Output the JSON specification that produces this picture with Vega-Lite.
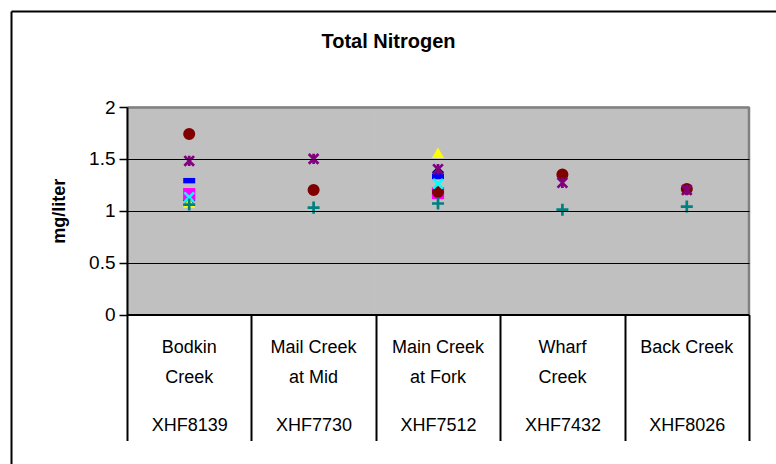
{
  "$schema": "https://vega.github.io/schema/vega-lite/v6.json",
  "width": 765,
  "height": 453,
  "autosize": "none",
  "padding": {"left": 11, "top": 11, "right": 0, "bottom": 0},
  "background": "white",
  "config": {
    "view": {"stroke": null},
    "font": "Liberation Sans",
    "axis": {"labelFont": "Liberation Sans", "titleFont": "Liberation Sans", "labelColor": "black", "titleColor": "black"}
  },
  "title": {"text": "Total Nitrogen", "fontSize": 20, "fontWeight": "bold", "font": "Liberation Sans", "color": "black", "anchor": "middle", "frame": "group", "offset": -51, "baseline": "middle", "dx": -5},
  "datasets": {
    "sites": [
      {"site": "Bodkin|Creek|XHF8139"},
      {"site": "Mail Creek|at Mid|XHF7730"},
      {"site": "Main Creek|at Fork|XHF7512"},
      {"site": "Wharf|Creek|XHF7432"},
      {"site": "Back Creek||XHF8026"}
    ],
    "tn": [
      {"site": "Bodkin|Creek|XHF8139", "series": "Sample 1", "value": 1.10},
      {"site": "Bodkin|Creek|XHF8139", "series": "Sample 2", "value": 1.16},
      {"site": "Bodkin|Creek|XHF8139", "series": "Sample 3", "value": 1.08},
      {"site": "Bodkin|Creek|XHF8139", "series": "Sample 4", "value": 1.13},
      {"site": "Bodkin|Creek|XHF8139", "series": "Sample 5", "value": 1.48},
      {"site": "Bodkin|Creek|XHF8139", "series": "Sample 6", "value": 1.74},
      {"site": "Bodkin|Creek|XHF8139", "series": "Sample 7", "value": 1.06},
      {"site": "Bodkin|Creek|XHF8139", "series": "Sample 8", "value": 1.29},
      {"site": "Mail Creek|at Mid|XHF7730", "series": "Sample 5", "value": 1.50},
      {"site": "Mail Creek|at Mid|XHF7730", "series": "Sample 6", "value": 1.20},
      {"site": "Mail Creek|at Mid|XHF7730", "series": "Sample 7", "value": 1.03},
      {"site": "Main Creek|at Fork|XHF7512", "series": "Sample 1", "value": 1.37},
      {"site": "Main Creek|at Fork|XHF7512", "series": "Sample 2", "value": 1.17},
      {"site": "Main Creek|at Fork|XHF7512", "series": "Sample 3", "value": 1.56},
      {"site": "Main Creek|at Fork|XHF7512", "series": "Sample 4", "value": 1.26},
      {"site": "Main Creek|at Fork|XHF7512", "series": "Sample 5", "value": 1.40},
      {"site": "Main Creek|at Fork|XHF7512", "series": "Sample 6", "value": 1.18},
      {"site": "Main Creek|at Fork|XHF7512", "series": "Sample 7", "value": 1.07},
      {"site": "Main Creek|at Fork|XHF7512", "series": "Sample 8", "value": 1.33},
      {"site": "Wharf|Creek|XHF7432", "series": "Sample 5", "value": 1.27},
      {"site": "Wharf|Creek|XHF7432", "series": "Sample 6", "value": 1.35},
      {"site": "Wharf|Creek|XHF7432", "series": "Sample 7", "value": 1.01},
      {"site": "Back Creek||XHF8026", "series": "Sample 5", "value": 1.20},
      {"site": "Back Creek||XHF8026", "series": "Sample 6", "value": 1.21},
      {"site": "Back Creek||XHF8026", "series": "Sample 7", "value": 1.04}
    ]
  },
  "resolve": {"scale": {"x": "independent", "y": "independent"}, "axis": {"x": "independent", "y": "independent"}},
  "layer": [
    {
      "data": {"name": "sites"},
      "mark": {"type": "point", "opacity": 0},
      "encoding": {
        "x": {
          "field": "site", "type": "nominal",
          "scale": {"type": "band", "paddingInner": 0, "paddingOuter": 0},
          "axis": {"orient": "top", "offset": 0, "title": null, "zindex": 1, "domain": true, "domainColor": "black", "domainWidth": 2, "ticks": false, "labels": false, "grid": false}
        },
        "y": {
          "datum": 0, "type": "quantitative",
          "scale": {"domain": [0, 1], "nice": false},
          "axis": {"orient": "left", "offset": 0, "title": null, "zindex": 1, "domain": true, "domainColor": "black", "domainWidth": 2, "ticks": false, "labels": false, "grid": false}
        }
      }
    },
    {
      "data": {"name": "sites"},
      "mark": {"type": "rect", "fill": "#C0C0C0", "stroke": "#C0C0C0", "strokeWidth": 1, "zindex": 0},
      "encoding": {
        "x": {
          "field": "site", "type": "nominal",
          "scale": {"type": "band", "domain": ["Bodkin|Creek|XHF8139", "Mail Creek|at Mid|XHF7730", "Main Creek|at Fork|XHF7512", "Wharf|Creek|XHF7432", "Back Creek||XHF8026"], "range": [116, 738], "paddingInner": 0, "paddingOuter": 0},
          "axis": {
            "orient": "bottom", "offset": -149.5, "title": null, "zindex": 1,
            "domain": true, "domainColor": "black", "domainWidth": 2,
            "ticks": false, "grid": false,
            "labelExpr": "[split(datum.label, '|')[0], split(datum.label, '|')[1]]",
            "labelFontSize": 18, "labelLineHeight": 30, "labelBaseline": "top", "labelPadding": 24, "labelAngle": 0
          }
        },
        "y": {
          "datum": 0, "type": "quantitative",
          "scale": {"domain": [0, 2], "range": [303.5, 96], "nice": false, "zero": false},
          "axis": {
            "orient": "left", "offset": -116, "title": "mg/liter", "zindex": 1,
            "values": [0, 0.5, 1, 1.5, 2], "format": "~g",
            "domain": true, "domainColor": "black", "domainWidth": 2,
            "ticks": true, "tickColor": "black", "tickSize": 8, "tickWidth": 1.5,
            "labelFontSize": 19, "labelPadding": 4, "labelFlush": false,
            "grid": true,
            "gridColor": {"condition": {"test": "datum.value === 2", "value": "#808080"}, "value": "black"},
            "gridWidth": {"condition": {"test": "datum.value === 2", "value": 2.5}, "value": 1},
            "titleFontSize": 18, "titleFontWeight": "bold", "titlePadding": 20
          }
        },
        "y2": {"datum": 2}
      }
    },
    {
      "data": {"name": "sites"},
      "transform": [{"filter": "datum.site === 'Back Creek||XHF8026'"}],
      "mark": {"type": "rule", "color": "#808080", "strokeWidth": 2.5, "zindex": 1},
      "encoding": {
        "x": {
          "field": "site", "type": "nominal", "bandPosition": 1,
          "scale": {"type": "band", "domain": ["Bodkin|Creek|XHF8139", "Mail Creek|at Mid|XHF7730", "Main Creek|at Fork|XHF7512", "Wharf|Creek|XHF7432", "Back Creek||XHF8026"], "range": [116, 738], "paddingInner": 0, "paddingOuter": 0},
          "axis": {
            "orient": "bottom", "offset": -149.5, "title": null, "zindex": 1,
            "domain": false, "grid": false,
            "ticks": true, "tickBand": "extent", "tickSize": 126, "tickWidth": 2, "tickColor": "black",
            "labelExpr": "split(datum.label, '|')[2]",
            "labelFontSize": 18, "labelBaseline": "top", "labelPadding": -24, "labelAngle": 0
          }
        },
        "y": {"datum": 0, "type": "quantitative", "scale": {"domain": [0, 2], "range": [303.5, 96], "nice": false, "zero": false}, "axis": null},
        "y2": {"datum": 2}
      }
    },
    {
      "data": {"name": "tn"},
      "transform": [{"filter": "indexof(['Sample 1','Sample 2','Sample 3','Sample 6','Sample 8'], datum.series) >= 0"}],
      "mark": {"type": "point", "filled": true, "opacity": 1, "strokeWidth": 0, "zindex": 2},
      "encoding": {
        "x": {"field": "site", "type": "nominal", "axis": null,
          "scale": {"type": "band", "domain": ["Bodkin|Creek|XHF8139", "Mail Creek|at Mid|XHF7730", "Main Creek|at Fork|XHF7512", "Wharf|Creek|XHF7432", "Back Creek||XHF8026"], "range": [116, 738], "paddingInner": 0, "paddingOuter": 0}},
        "y": {"field": "value", "type": "quantitative", "axis": null, "scale": {"domain": [0, 2], "range": [303.5, 96], "nice": false, "zero": false}},
        "order": {"field": "series"},
        "color": {"field": "series", "type": "nominal", "legend": null,
          "scale": {"domain": ["Sample 1", "Sample 2", "Sample 3", "Sample 4", "Sample 5", "Sample 6", "Sample 7", "Sample 8"], "range": ["#000080", "#FF00FF", "#FFFF00", "#00FFFF", "#800080", "#800000", "#008080", "#0000FF"]}},
        "shape": {"field": "series", "type": "nominal", "legend": null,
          "scale": {"domain": ["Sample 1", "Sample 2", "Sample 3", "Sample 4", "Sample 5", "Sample 6", "Sample 7", "Sample 8"], "range": ["diamond", "square", "triangle-up", "M-0.8,-0.8L0.8,0.8M-0.8,0.8L0.8,-0.8", "M-0.8,-0.8L0.8,0.8M-0.8,0.8L0.8,-0.8M0,-0.85V0.85", "circle", "M-1,0H1M0,-1V1", "M-1,-0.45H1V0.45H-1Z"]}},
        "size": {"field": "series", "type": "nominal", "legend": null,
          "scale": {"domain": ["Sample 1", "Sample 2", "Sample 3", "Sample 4", "Sample 5", "Sample 6", "Sample 7", "Sample 8"], "range": [150, 144, 200, 260, 340, 185, 220, 72]}}
      }
    },
    {
      "data": {"name": "tn"},
      "transform": [{"filter": "indexof(['Sample 4','Sample 5','Sample 7'], datum.series) >= 0"}],
      "mark": {"type": "point", "filled": false, "opacity": 1, "strokeWidth": 2.7, "zindex": 2},
      "encoding": {
        "x": {"field": "site", "type": "nominal", "axis": null,
          "scale": {"type": "band", "domain": ["Bodkin|Creek|XHF8139", "Mail Creek|at Mid|XHF7730", "Main Creek|at Fork|XHF7512", "Wharf|Creek|XHF7432", "Back Creek||XHF8026"], "range": [116, 738], "paddingInner": 0, "paddingOuter": 0}},
        "y": {"field": "value", "type": "quantitative", "axis": null, "scale": {"domain": [0, 2], "range": [303.5, 96], "nice": false, "zero": false}},
        "order": {"field": "series"},
        "color": {"field": "series", "type": "nominal", "legend": null},
        "shape": {"field": "series", "type": "nominal", "legend": null},
        "size": {"field": "series", "type": "nominal", "legend": null}
      }
    }
  ]
}
